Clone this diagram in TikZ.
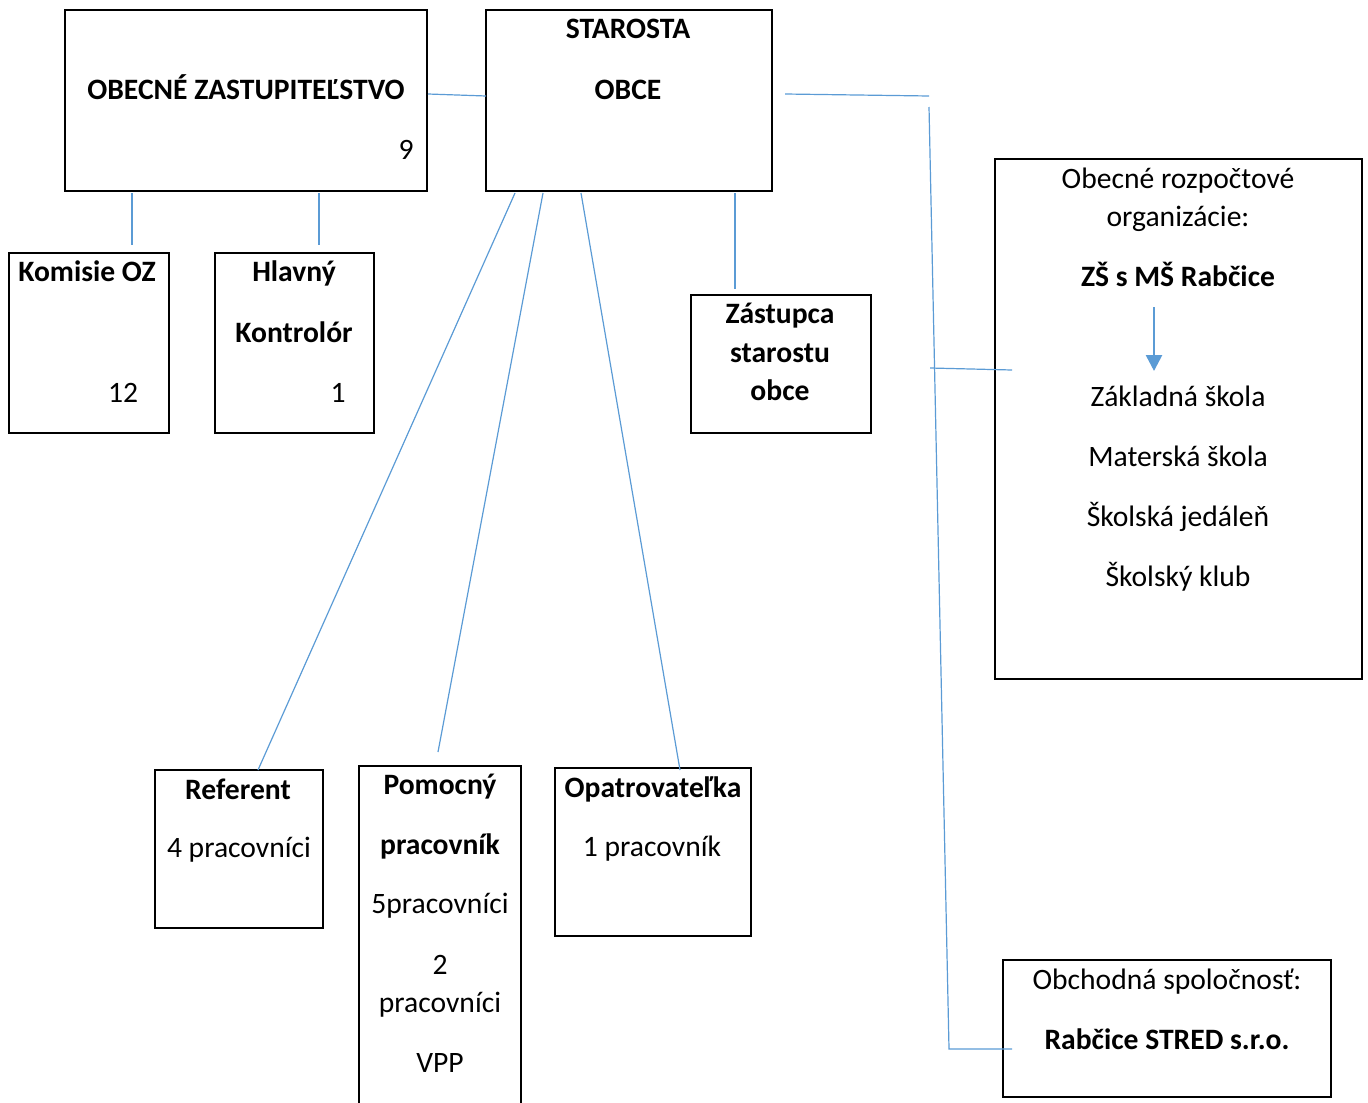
\documentclass[tikz,border=0pt]{standalone}
\usepackage{fontspec}
\setmainfont{Carlito}
\usetikzlibrary{fit,arrows.meta}
\definecolor{linkblue}{HTML}{5B9BD5}
\tikzset{
  box/.style={draw=black, line width=1pt, inner sep=0pt, fill=none},
  txt/.style={anchor=base, inner sep=0pt, font=\fontsize{14.8}{16}\selectfont},
  btxt/.style={txt, font=\fontsize{14.8}{16}\selectfont\bfseries},
  conn/.style={draw=linkblue, line width=0.6pt},
  downarrow/.style={draw=linkblue, line width=1.3pt, -{Triangle[width=8pt,length=8pt,fill=linkblue]}}
}
\begin{document}
\begin{tikzpicture}[x=0.5pt,y=-0.5pt]
\useasboundingbox (0,0) rectangle (1368,1102);
% boxes
\node[box, fit={(65,10) (427,191)}] (oz) {};
\node[box, fit={(486,10) (772,191)}] (star) {};
\node[box, fit={(9,253) (169,433)}] (kom) {};
\node[box, fit={(215,253) (374,433)}] (hk) {};
\node[box, fit={(691,295) (871,433)}] (zas) {};
\node[box, fit={(995,159) (1362,679)}] (org) {};
\node[box, fit={(1003,960) (1331,1097)}] (obch) {};
\node[box, fit={(155,770) (323,928)}] (ref) {};
\node[box, fit={(359,766) (521,1110)}] (pom) {};
\node[box, fit={(555,768) (751,936)}] (opa) {};
% texts
\node[btxt] (oz1) at (246,99) {OBECNÉ ZASTUPITEĽSTVO};
\node[txt] (oz2) at (406,159) {9};
\node[btxt] (st1) at (628,39) {STAROSTA};
\node[btxt] (st2) at (628,99) {OBCE};
\node[btxt] (ko1) at (87,281) {Komisie OZ};
\node[txt] (ko2) at (123,402) {12};
\node[btxt] (hk1) at (294,281) {Hlavný};
\node[btxt] (hk2) at (294,342) {Kontrolór};
\node[txt] (hk3) at (338,402) {1};
\node[btxt] (za1) at (780,323) {Zástupca};
\node[btxt] (za2) at (780,362) {starostu};
\node[btxt] (za3) at (780,400) {obce};
\node[txt] (or1) at (1178,188) {Obecné rozpočtové};
\node[txt] (or2) at (1178,226) {organizácie:};
\node[btxt] (or3) at (1178,286) {ZŠ s MŠ Rabčice};
\node[txt] (or4) at (1178,406) {Základná škola};
\node[txt] (or5) at (1178,466) {Materská škola};
\node[txt] (or6) at (1178,526) {Školská jedáleň};
\node[txt] (or7) at (1178,586) {Školský klub};
\node[txt] (ob1) at (1167,989) {Obchodná spoločnosť:};
\node[btxt] (ob2) at (1167,1049) {Rabčice STRED s.r.o.};
\node[btxt] (re1) at (238,799) {Referent};
\node[txt] (re2) at (239,857) {4 pracovníci};
\node[btxt] (po1) at (440,794) {Pomocný};
\node[btxt] (po2) at (440,854) {pracovník};
\node[txt] (po3) at (440,913) {5pracovníci};
\node[txt] (po4) at (440,974) {2};
\node[txt] (po5) at (440,1012) {pracovníci};
\node[txt] (po6) at (440,1072) {VPP};
\node[btxt] (op1) at (653,797) {Opatrovateľka};
\node[txt] (op2) at (652,856) {1 pracovník};
% connector points
\coordinate (a1) at (428,94);  \coordinate (a2) at (486,96);
\coordinate (b1) at (132,193); \coordinate (b2) at (132,245);
\coordinate (c1) at (319,193); \coordinate (c2) at (319,245);
\coordinate (d1) at (515,193); \coordinate (d2) at (258,770);
\coordinate (e1) at (543,193); \coordinate (e2) at (438,752);
\coordinate (f1) at (581,193); \coordinate (f2) at (680,770);
\coordinate (g1) at (735,193); \coordinate (g2) at (735,289);
\coordinate (h1) at (785,94);  \coordinate (h2) at (929,96);
\coordinate (v1) at (929,107); \coordinate (v2) at (949,1049);
\coordinate (v3) at (1012,1049);
\coordinate (m1) at (930,368); \coordinate (m2) at (1012,370);
\coordinate (ar1) at (1154,307); \coordinate (ar2) at (1154,371);
% connectors
\draw[conn] (a1) -- (a2);
\draw[conn] (b1) -- (b2);
\draw[conn] (c1) -- (c2);
\draw[conn] (d1) -- (d2);
\draw[conn] (e1) -- (e2);
\draw[conn] (f1) -- (f2);
\draw[conn] (g1) -- (g2);
\draw[conn] (h1) -- (h2);
\draw[conn] (v1) -- (v2) -- (v3);
\draw[conn] (m1) -- (m2);
\draw[downarrow] (ar1) -- (ar2);
\end{tikzpicture}
\end{document}
